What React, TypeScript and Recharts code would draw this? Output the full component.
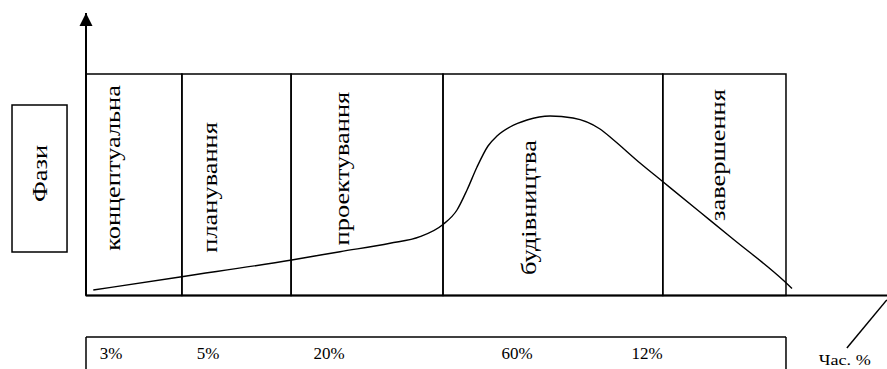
import React from 'react';
import { ComposedChart, Line, XAxis, YAxis, ReferenceArea, ReferenceLine, ReferenceDot } from 'recharts';

// ---- data ----
const phaseNames = ['концептуальна', 'планування', 'проектування', 'будівництва', 'завершення'];
const phaseBounds = [0, 13.7, 29.3, 51.0, 82.4, 100];
const timeShares = ['3%', '5%', '20%', '60%', '12%'];
const axisTitle = 'Фази';
const timeTitle = 'Час. %';

const curveX = [1.04, 13.67, 29.39, 36.29, 43.43, 47.71, 51.0, 53.0, 54.43, 55.86, 57.43, 58.71, 60.57, 63.0, 66.29, 69.57, 73.43, 75.29, 79.14, 82.29, 87.71, 92.43, 99.57, 100.86];
const curveY = [2.48, 8.49, 16.03, 19.77, 23.57, 26.55, 32.05, 38.6, 47.63, 58.01, 67.49, 72.0, 76.07, 79.23, 81.04, 80.14, 75.17, 70.43, 59.82, 51.69, 37.7, 25.51, 7.0, 3.16];

const curve = curveX.map((x, i) => ({ x, y: curveY[i] }));

// ---- layout (chart units) ----
const X_MAX = 114.43;
const Y_MAX = 127.54;
const phaseLabelAt = [
  { x: 4.86, y: 57.6 },
  { x: 18.7, y: 48.8 },
  { x: 37.6, y: 57.3 },
  { x: 64.3, y: 39.7 },
  { x: 91.3, y: 63.4 },
];
const shareLabelAt = [3.57, 17.43, 34.71, 61.57, 80.14];
const shareBaseline = -28.7;
const shareBoxTop = -18.7;
const bottomEdge = -34;

const FONT = "Liberation Serif, DejaVu Serif, Times New Roman, serif";
const STRETCH = 1.32;

const RotLabel = (text: string) => (props: any) => (
  <text
    transform={`translate(${props.cx},${props.cy}) rotate(-90) scale(${STRETCH},1)`}
    x={0}
    y={0}
    textAnchor="middle"
    fontFamily="Liberation Serif"
    fontSize={20}
    style={{ fontFamily: FONT, fontSize: '20px' }}
    fill="#000"
  >
    {text}
  </text>
);

const FlatLabel = (text: string, size: number, len?: number) => (props: any) => (
  <text
    x={props.cx}
    y={props.cy}
    textAnchor="middle"
    fontFamily="Liberation Serif"
    fontSize={size}
    style={{ fontFamily: FONT, fontSize: `${size}px` }}
    fill="#000"
    {...(len ? { textLength: len, lengthAdjust: 'spacingAndGlyphs' } : {})}
  >
    {text}
  </text>
);

const Arrow = (props: any) => (
  <polygon
    points={`${props.cx},${props.cy} ${props.cx - 6.5},${props.cy + 13} ${props.cx + 6.5},${props.cy + 13}`}
    fill="#000"
  />
);

export default function App() {
  return (
    <div
      style={{
        position: 'absolute',
        left: 0,
        top: 0,
        width: 887,
        height: 369,
        background: '#fff',
        fontFamily: FONT,
      }}
    >
      <ComposedChart
        width={887}
        height={369}
        data={curve}
        margin={{ top: 13, right: 0, bottom: 73.5, left: 86 }}
        style={{ fontFamily: FONT }}
      >
        <XAxis type="number" dataKey="x" domain={[0, X_MAX]} allowDataOverflow hide />
        <YAxis type="number" domain={[0, Y_MAX]} allowDataOverflow hide />

        {phaseNames.map((name, i) => (
          <ReferenceArea
            key={name}
            x1={phaseBounds[i]}
            x2={phaseBounds[i + 1]}
            y1={0}
            y2={100}
            stroke="#000"
            strokeWidth={1.5}
            fill="#fff"
            fillOpacity={0}
          />
        ))}

        {/* axes */}
        <ReferenceLine y={0} stroke="#000" strokeWidth={2} />
        <ReferenceLine x={0} stroke="#000" strokeWidth={2} />
        <ReferenceDot x={0} y={Y_MAX} ifOverflow="visible" shape={Arrow} />

        {/* Фази box */}
        <ReferenceArea
          x1={-10.57}
          x2={-2.71}
          y1={19.6}
          y2={86.0}
          ifOverflow="visible"
          stroke="#000"
          strokeWidth={1.5}
          fill="#fff"
          fillOpacity={0}
        />
        <ReferenceDot x={-5.57} y={55.1} ifOverflow="visible" shape={RotLabel(axisTitle)} />

        {phaseNames.map((name, i) => (
          <ReferenceDot
            key={'l' + name}
            x={phaseLabelAt[i].x}
            y={phaseLabelAt[i].y}
            ifOverflow="visible"
            shape={RotLabel(name)}
          />
        ))}

        <Line
          type="monotone"
          dataKey="y"
          stroke="#000"
          strokeWidth={1.4}
          dot={false}
          activeDot={false}
          isAnimationActive={false}
        />

        {/* time-share box */}
        <ReferenceLine
          segment={[{ x: 0, y: shareBoxTop }, { x: 100, y: shareBoxTop }]}
          ifOverflow="visible"
          stroke="#000"
          strokeWidth={1.5}
        />
        <ReferenceLine
          segment={[{ x: 0, y: shareBoxTop }, { x: 0, y: bottomEdge }]}
          ifOverflow="visible"
          stroke="#000"
          strokeWidth={1.5}
        />
        <ReferenceLine
          segment={[{ x: 100, y: shareBoxTop }, { x: 100, y: bottomEdge }]}
          ifOverflow="visible"
          stroke="#000"
          strokeWidth={1.5}
        />
        {timeShares.map((s, i) => (
          <ReferenceDot
            key={'s' + i}
            x={shareLabelAt[i]}
            y={shareBaseline}
            ifOverflow="visible"
            shape={FlatLabel(s, 17)}
          />
        ))}

        {/* time axis label */}
        <ReferenceLine
          segment={[{ x: 108.7, y: -23.7 }, { x: 114.4, y: -2.0 }]}
          ifOverflow="visible"
          stroke="#000"
          strokeWidth={1.5}
        />
        <ReferenceDot x={108.4} y={-31.6} ifOverflow="visible" shape={FlatLabel(timeTitle, 14, 52)} />
      </ComposedChart>
    </div>
  );
}
